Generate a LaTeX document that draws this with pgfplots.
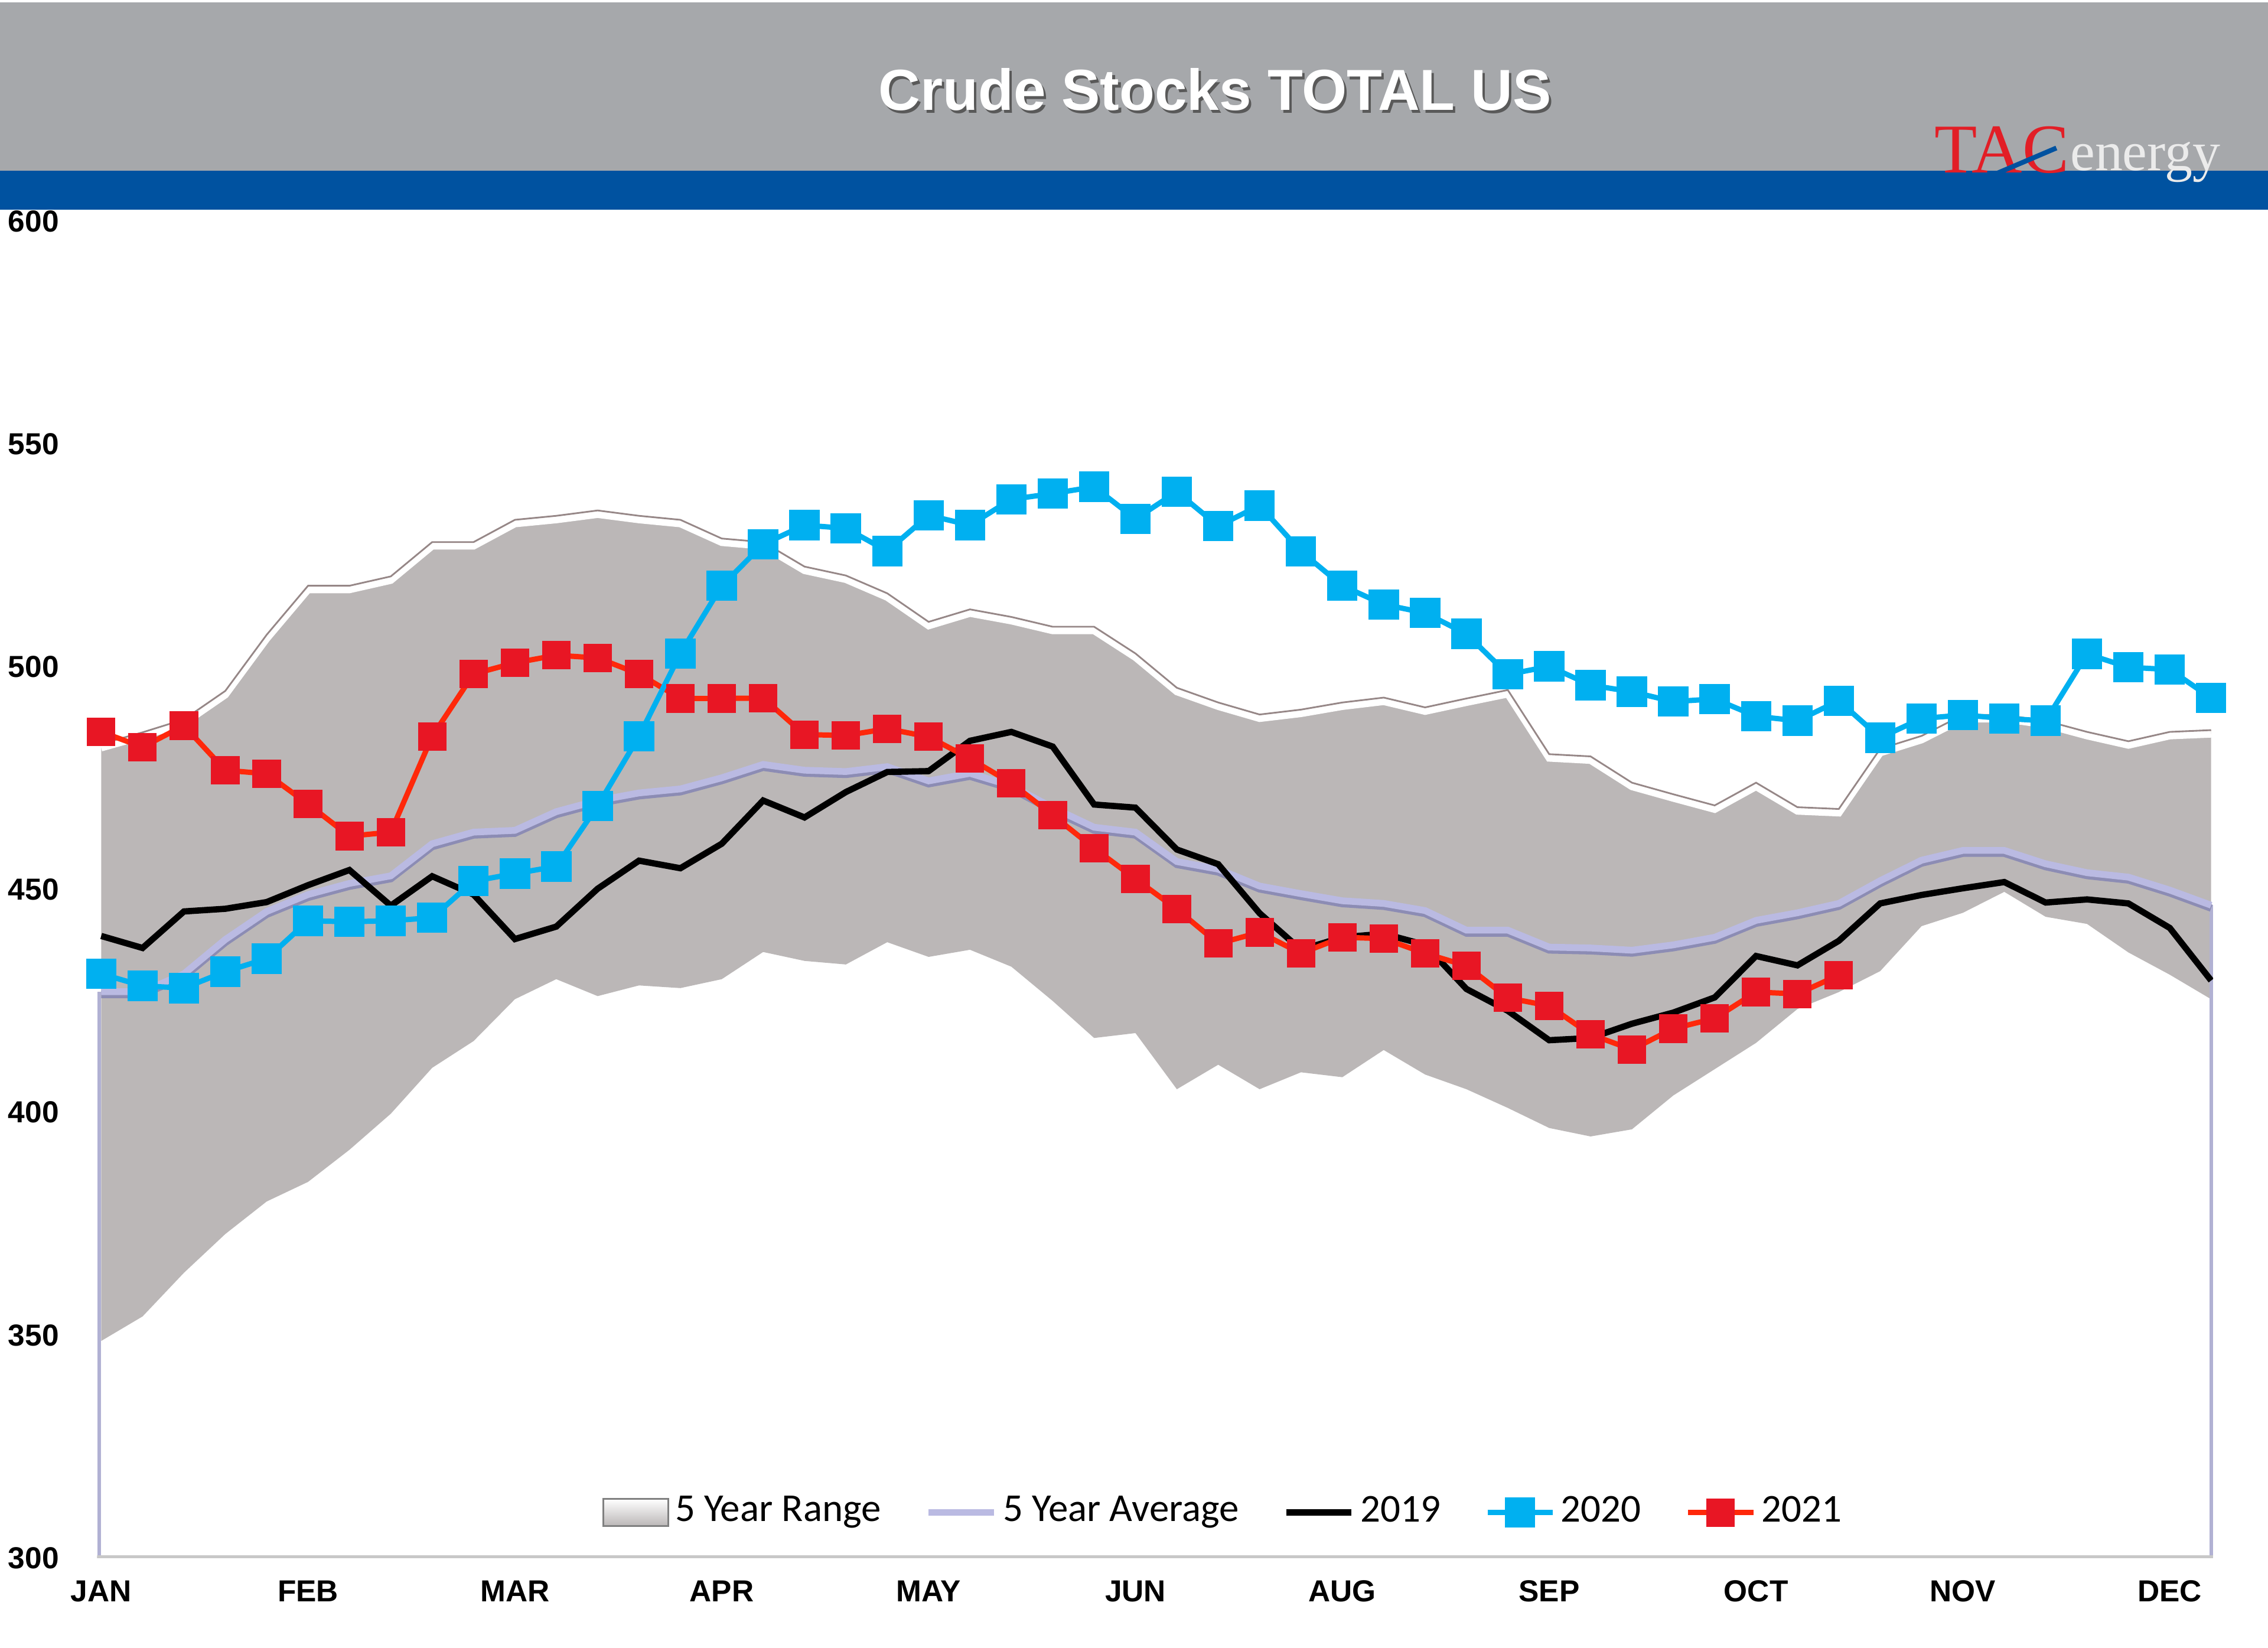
\documentclass[border=0pt]{standalone}
\usepackage{fontspec}
\setmainfont{Liberation Sans}
\newfontfamily\legfont{Carlito}
\newfontfamily\logofont{Liberation Serif}
\usepackage{pgfplots}
\pgfplotsset{compat=1.18}
\usepackage{pgfplotstable}
\usepgfplotslibrary{fillbetween}

\definecolor{hdrgray}{RGB}{166,168,171}
\definecolor{hdrblue}{RGB}{0,82,160}
\definecolor{rangegray}{RGB}{187,183,183}
\definecolor{rangeedge}{RGB}{150,135,135}
\definecolor{avgcol}{RGB}{186,186,226}
\definecolor{avgshadow}{RGB}{140,140,180}
\definecolor{c2020}{RGB}{0,176,240}
\definecolor{c2021line}{RGB}{255,40,10}
\definecolor{c2021mark}{RGB}{232,22,36}
\definecolor{tacred}{RGB}{226,30,38}
\definecolor{axgray}{RGB}{200,200,200}

\pgfplotstableread{
w lo hi y2019 y2020
0 348.7 482.7 439.6 431.1
1 354.2 485.3 436.9 428.4
2 364.0 488.2 445.1 427.9
3 372.7 494.6 445.7 431.6
4 380.0 507.2 447.2 434.5
5 384.4 518.2 451.0 443.0
6 391.6 518.2 454.4 442.8
7 399.7 520.3 446.4 443.0
8 410.0 528.0 453.0 443.7
9 416.0 528.0 448.9 451.9
10 425.4 533.0 438.9 453.6
11 429.9 533.9 441.7 455.2
12 426.1 535.1 450.2 468.8
13 428.5 533.9 456.5 484.4
14 427.9 533.0 454.8 503.0
15 429.9 528.8 460.3 518.2
16 436.0 528.0 470.0 527.5
17 434.0 522.5 466.2 531.8
18 433.2 520.5 471.9 531.1
19 438.2 516.5 476.4 526.0
20 434.9 510.1 476.6 534.0
21 436.5 512.9 483.4 531.8
22 432.7 511.2 485.4 537.6
23 425.0 509.0 482.1 538.9
24 416.7 509.0 469.1 540.4
25 417.8 503.0 468.4 533.2
26 405.2 495.3 459.0 539.3
27 410.7 492.0 455.7 531.6
28 405.2 489.3 444.7 536.2
29 409.0 490.4 436.5 525.9
30 407.9 492.0 439.3 518.2
31 414.0 493.1 440.1 514.0
32 408.5 490.9 437.6 512.1
33 405.2 492.9 427.7 507.4
34 401.0 494.8 422.8 498.3
35 396.5 480.4 416.2 500.1
36 394.6 479.9 416.7 495.9
37 396.2 474.0 419.9 494.4
38 403.8 471.4 422.4 492.2
39 409.7 468.9 425.8 492.8
40 415.6 474.0 435.1 488.9
41 423.2 468.5 433.0 487.9
42 427.0 468.1 438.5 492.4
43 431.7 481.6 446.9 484.1
44 441.8 484.5 448.8 488.4
45 444.8 489.2 450.3 489.2
46 449.5 489.2 451.7 488.4
47 443.9 487.9 447.1 487.9
48 442.3 485.4 447.8 502.9
49 435.9 483.3 446.9 499.9
50 430.9 485.4 441.4 499.4
51 425.4 485.8 429.6 493.0
}\maindata

\pgfplotstableread{
w avg
0 427.1
1 427.1
2 431.1
3 438.8
4 445.1
5 448.9
6 451.4
7 453.1
8 460.3
9 462.9
10 463.3
11 467.5
12 470.0
13 471.7
14 472.6
15 475.1
16 478.1
17 476.8
18 476.5
19 477.6
20 474.4
21 476.1
22 473.3
23 468.4
24 464.0
25 462.9
26 456.3
27 454.6
28 450.8
29 449.1
30 447.5
31 446.9
32 445.3
33 440.9
34 440.9
35 437.1
36 436.9
37 436.4
38 437.6
39 439.3
40 443.1
41 444.8
42 446.9
43 452.0
44 456.6
45 458.8
46 458.8
47 455.8
48 453.8
49 452.8
50 449.9
51 446.5
}\avgdata

\pgfplotstableread{
w ycur
0 485.4
1 482.0
2 486.8
3 476.8
4 476.0
5 469.2
6 462.0
7 462.9
8 484.4
9 498.4
10 500.9
11 502.6
12 502.0
13 498.4
14 492.9
15 492.9
16 493.0
17 484.8
18 484.6
19 486.1
20 484.3
21 479.4
22 473.9
23 466.7
24 459.3
25 452.4
26 445.6
27 437.9
28 440.4
29 435.7
30 439.3
31 439.0
32 435.7
33 432.9
34 425.7
35 423.9
36 417.5
37 414.1
38 418.8
39 421.1
40 427.0
41 426.6
42 430.8
}\dataTwentyOne

\begin{document}
\begin{tikzpicture}[x=1pt,y=1pt]
% header
\fill[hdrgray] (0,306.3) rectangle (470.4,341.2);
\fill[hdrblue] (0,298.2) rectangle (470.4,306.3);
\node[text=black!65, font=\fontsize{12}{14}\selectfont\bfseries] at (252.5,322.5) {Crude Stocks TOTAL US};
\node[text=white, font=\fontsize{12}{14}\selectfont\bfseries] at (252,323.1) {Crude Stocks TOTAL US};
% logo
\node[anchor=base west, inner sep=0pt, text=tacred, font=\logofont\fontsize{14.5}{16}\selectfont] at (401.1,305.9) {TAC};
\node[anchor=base west, inner sep=0pt, text=white!92!black, font=\logofont\fontsize{11.5}{13}\selectfont] at (429.2,306.4) {energy};
\draw[hdrblue, line width=1pt] (411.5,304.6) -- (426.5,311.0);

\begin{axis}[
  at={(20.13pt,18.6pt)}, anchor=south west,
  width=438.9pt, height=277.2pt, scale only axis,
  xmin=-0.1, xmax=51.05, ymin=300, ymax=600,
  axis line style={draw=none},
  xtick={0,5,10,15,20,25,30,35,40,45,50},
  xticklabels={JAN,FEB,MAR,APR,MAY,JUN,AUG,SEP,OCT,NOV,DEC},
  ytick={300,350,400,450,500,550,600},
  major tick length=0pt,
  tick label style={font=\fontsize{6.3}{7}\selectfont\bfseries},
  /pgf/number format/assume math mode=true,
  yticklabel style={anchor=west, inner sep=0pt, xshift=-18.63pt},
  xticklabel style={anchor=center, inner sep=0pt, yshift=-6.9pt},
  legend columns=5,
  legend style={draw=none, fill=none, at={(0.533,0.0340)}, anchor=center,
    font=\legfont\fontsize{8.2}{9}\selectfont,
    nodes={inner xsep=1.2pt, inner ysep=1pt},
    /tikz/every even column/.append style={column sep=8.0pt}},
  legend image code/.code={\draw[mark repeat=2, mark phase=2, #1] plot coordinates {(0pt,0pt) (6.75pt,0pt) (13.5pt,0pt)};},
]
\addlegendimage{legend image code/.code={\draw[draw=gray, top color=white, bottom color=rangegray] (0pt,-2.8pt) rectangle (13.5pt,2.8pt);}}
\addlegendentry{5 Year Range}
\addlegendimage{avgcol, line width=1.4pt}
\addlegendentry{5 Year Average}
\addlegendimage{black, line width=1.3pt}
\addlegendentry{2019}
\addlegendimage{c2020, line width=1.1pt, mark=square*, mark size=2.6pt, mark options={fill=c2020, draw=c2020}}
\addlegendentry{2020}
\addlegendimage{c2021line, line width=1.1pt, mark=square*, mark size=2.4pt, mark options={fill=c2021mark, draw=c2021mark}}
\addlegendentry{2021}

\addplot[name path=hi, draw=none, forget plot] table[x=w, y=hi] {\maindata};
\addplot[name path=lo, draw=none, forget plot] table[x=w, y=lo] {\maindata};
\addplot[rangegray, forget plot] fill between[of=hi and lo];
\addplot[white, line width=1.5pt, yshift=-0.8pt, forget plot] table[x=w, y=hi] {\maindata};
\addplot[rangeedge, line width=0.35pt, forget plot] table[x=w, y=hi] {\maindata};

% drop lines of the average at both ends
\addplot[avgcol!85!gray, line width=0.7pt, forget plot] coordinates {(-0.05,250) (-0.05,427.1)};
\addplot[avgcol!85!gray, line width=0.7pt, forget plot] coordinates {(51,250) (51,446.5)};

\addplot[avgshadow, line width=1.5pt, yshift=-0.6pt, forget plot] table[x=w, y=avg] {\avgdata};
\addplot[avgcol, line width=1.4pt, forget plot] table[x=w, y=avg] {\avgdata};

\addplot[black, line width=1.3pt, forget plot] table[x=w, y=y2019] {\maindata};

\addplot[c2021line, line width=1.1pt, mark=square*, mark size=2.4pt,
  mark options={fill=c2021mark, draw=c2021mark, rounded corners=0.7pt}, forget plot] table[x=w, y=ycur] {\dataTwentyOne};

\addplot[c2020, line width=1.1pt, mark=square*, mark size=2.6pt,
  mark options={fill=c2020, draw=c2020}, forget plot] table[x=w, y=y2020] {\maindata};

\draw[black!10, line width=2.2pt] ([yshift=-0.8pt]rel axis cs:0,0) -- ([yshift=-0.8pt]rel axis cs:1,0);
\draw[axgray, line width=1.2pt] (rel axis cs:0,0) -- (rel axis cs:1,0);
\end{axis}
\pgfresetboundingbox
\path[use as bounding box] (0,0) rectangle (470.4,341.7);
\end{tikzpicture}
\end{document}
